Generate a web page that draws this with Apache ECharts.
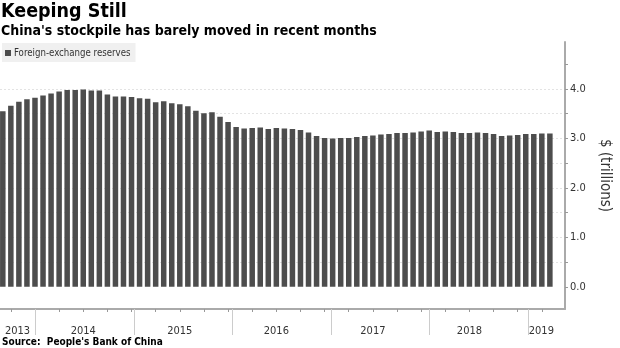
<!DOCTYPE html>
<html>
<head>
<meta charset="utf-8">
<script src="https://cdn.jsdelivr.net/npm/echarts@6/dist/echarts.min.js"></script>
<style>
  html, body { margin: 0; padding: 0; background: #fff; }
  #chart { width: 620px; height: 348px; }
</style>
</head>
<body>
<div id="chart"></div>
<script>
// Month-end observations of China's foreign-exchange reserves
const months = [
  '2013-08', '2013-09', '2013-10', '2013-11', '2013-12',
  '2014-01', '2014-02', '2014-03', '2014-04', '2014-05', '2014-06', '2014-07', '2014-08', '2014-09', '2014-10', '2014-11', '2014-12',
  '2015-01', '2015-02', '2015-03', '2015-04', '2015-05', '2015-06', '2015-07', '2015-08', '2015-09', '2015-10', '2015-11', '2015-12',
  '2016-01', '2016-02', '2016-03', '2016-04', '2016-05', '2016-06', '2016-07', '2016-08', '2016-09', '2016-10', '2016-11', '2016-12',
  '2017-01', '2017-02', '2017-03', '2017-04', '2017-05', '2017-06', '2017-07', '2017-08', '2017-09', '2017-10', '2017-11', '2017-12',
  '2018-01', '2018-02', '2018-03', '2018-04', '2018-05', '2018-06', '2018-07', '2018-08', '2018-09', '2018-10', '2018-11', '2018-12',
  '2019-01', '2019-02', '2019-03', '2019-04'
];

// $ trillions
const reserves = [
  3.55, 3.66, 3.74, 3.79, 3.82,
  3.87, 3.91, 3.95, 3.98, 3.98, 3.99, 3.97, 3.97, 3.89, 3.85, 3.85, 3.84,
  3.81, 3.80, 3.73, 3.75, 3.71, 3.69, 3.65, 3.56, 3.51, 3.53, 3.44, 3.33,
  3.23, 3.20, 3.21, 3.22, 3.19, 3.21, 3.20, 3.19, 3.17, 3.12, 3.05, 3.01,
  3.00, 3.01, 3.01, 3.03, 3.05, 3.06, 3.08, 3.09, 3.11, 3.11, 3.12, 3.14,
  3.16, 3.13, 3.14, 3.13, 3.11, 3.11, 3.12, 3.11, 3.09, 3.05, 3.06, 3.07,
  3.09, 3.09, 3.10, 3.10
];

const yearBoundaries = [2014, 2015, 2016, 2017, 2018, 2019];
const yTickLabels = [0, 1, 2, 3, 4];

const seriesName = 'Foreign-exchange reserves';
const titleText = 'Keeping Still';
const subtitleText = "China's stockpile has barely moved in recent months";
const sourceText = "Source:  People's Bank of China";

// Time span shown on the x axis, in decimal years
const X_MIN = 2013.6376;
const X_MAX = 2019.49;
const Y_MIN = -0.45;
const Y_MAX = 4.95;

// A month-end value sits at the boundary with the following month
function monthEnd(m) {
  const [y, mo] = m.split('-').map(Number);
  return y + mo / 12;
}

const barData = months.map((m, i) => [monthEnd(m), reserves[i]]);

// Quarter ticks along the time axis
const quarterTicks = [];
for (let q = Math.ceil(X_MIN * 4); q / 4 <= X_MAX; q++) quarterTicks.push(q / 4);

// Year labels centred in the visible part of each year
const yearLabelPos = [];
for (let y = Math.floor(X_MIN); y <= Math.floor(X_MAX); y++) {
  const a = Math.max(y, X_MIN), b = Math.min(y + 1, X_MAX);
  yearLabelPos.push((a + b) / 2);
}

const yTicks = [];
for (let v = 0; v <= 4.5 + 1e-9; v += 0.5) yTicks.push(+v.toFixed(1));

const FONT = '"DejaVu Sans Condensed", "DejaVu Sans", sans-serif';
const gridRect = { left: 0, right: 44, top: 42, bottom: 39 };

const chart = echarts.init(document.getElementById('chart'));
chart.setOption({
  animation: false,
  textStyle: { fontFamily: FONT },
  title: [
    { text: titleText, left: 1, top: 2, padding: 0,
      textStyle: { fontFamily: FONT, fontSize: 19.5, fontWeight: 'bold', color: '#000' } },
    { text: subtitleText, left: 1, top: 24, padding: 0,
      textStyle: { fontFamily: FONT, fontSize: 14, fontWeight: 'bold', color: '#000' } },
    { text: sourceText, left: 2, top: 337, padding: 0,
      textStyle: { fontFamily: FONT, fontSize: 10, fontWeight: 'bold', color: '#000' } }
  ],
  legend: {
    left: 2, top: 43,
    padding: [5, 5, 4, 3],
    backgroundColor: '#f0f0f0',
    itemWidth: 6, itemHeight: 6,
    icon: 'rect',
    data: [seriesName],
    textStyle: { fontFamily: FONT, fontSize: 9.6, color: '#333', padding: [0, 0, 0, -2] }
  },
  grid: [
    Object.assign({}, gridRect),
    Object.assign({}, gridRect)
  ],
  xAxis: [
    {
      type: 'value', gridIndex: 0, position: 'bottom',
      min: X_MIN, max: X_MAX,
      axisLine: { show: true, onZero: false, lineStyle: { color: '#aaa', width: 2 } },
      axisTick: { show: true, customValues: quarterTicks, length: 3, lineStyle: { color: '#999' } },
      axisLabel: {
        show: true, customValues: yearLabelPos, margin: 17,
        formatter: v => String(Math.floor(v)),
        color: '#333', fontSize: 11, fontFamily: FONT
      },
      splitLine: { show: false }
    },
    {
      type: 'value', gridIndex: 1, position: 'bottom',
      min: X_MIN, max: X_MAX,
      axisLine: { show: false, onZero: false },
      axisTick: { show: true, customValues: yearBoundaries, length: 26, lineStyle: { color: '#ccc', width: 1 } },
      axisLabel: { show: false },
      splitLine: { show: false }
    }
  ],
  yAxis: [
    {
      type: 'value', gridIndex: 0, position: 'right',
      min: Y_MIN, max: Y_MAX,
      name: '$ (trillions)', nameLocation: 'middle', nameRotate: -90, nameGap: 32,
      nameTextStyle: { fontFamily: FONT, fontSize: 15, color: '#333' },
      axisLine: { show: true, onZero: false, lineStyle: { color: '#aaa', width: 2 } },
      axisTick: { show: true, customValues: yTicks, length: 3, lineStyle: { color: '#999' } },
      axisLabel: {
        show: true, customValues: yTickLabels, margin: 5,
        formatter: v => v.toFixed(1),
        color: '#333', fontSize: 11, fontFamily: FONT
      },
      splitLine: {
        show: true, showMinLine: false, showMaxLine: false,
        lineStyle: { color: '#e3e3e3', type: [2, 2], width: 1 }
      }
    },
    {
      type: 'value', gridIndex: 1, show: false,
      min: Y_MIN, max: Y_MAX,
      splitLine: { show: false }
    }
  ],
  series: [
    {
      name: seriesName,
      type: 'bar',
      xAxisIndex: 0, yAxisIndex: 0,
      barWidth: 5.5,
      itemStyle: { color: '#4d4d4d' },
      data: barData
    }
  ]
});
</script>
</body>
</html>
